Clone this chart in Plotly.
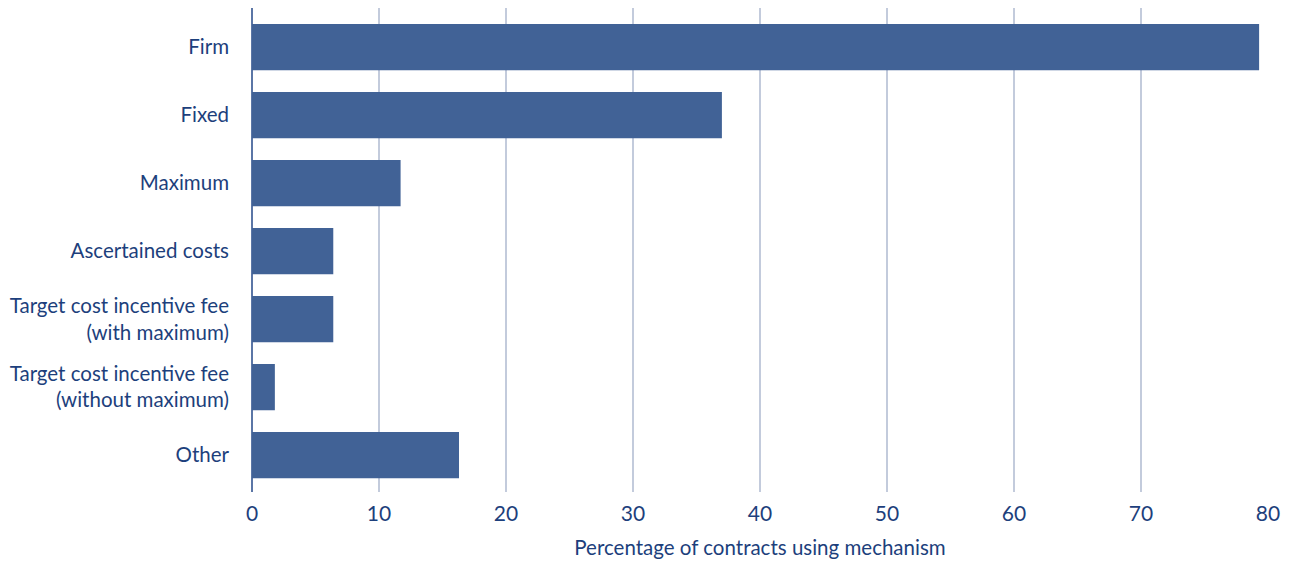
import plotly.graph_objects as go

categories = ["Firm", "Fixed", "Maximum", "Ascertained costs",
              "Target cost incentive fee<br>(with maximum)",
              "Target cost incentive fee<br>(without maximum)", "Other"]
values = [79.3, 37.0, 11.7, 6.4, 6.4, 1.8, 16.3]
x_ticks = [0, 10, 20, 30, 40, 50, 60, 70, 80]
x_title = "Percentage of contracts using mechanism"

TEXT = "#1d3f7c"
BAR = "#416296"
GRID = "#c3cbdc"
FONT = "Lato"

fig = go.Figure(go.Bar(
    x=values, y=categories, orientation="h",
    marker=dict(color=BAR, line=dict(width=0)),
    width=0.68, hoverinfo="x+y",
))

# page body has an 8px default margin, so offsets are compensated here
fig.update_layout(
    width=1289, height=562,
    margin=dict(l=244, r=29, t=0, b=78, autoexpand=False),
    paper_bgcolor="white", plot_bgcolor="white",
    font=dict(family=FONT, size=20.5, color=TEXT),
    showlegend=False,
    bargap=0.32,
)
fig.update_xaxes(
    range=[0, 80], tickvals=x_ticks, ticktext=[str(v) for v in x_ticks],
    showgrid=True, gridcolor=GRID, gridwidth=1.5,
    zeroline=True, zerolinecolor="#5b76a6", zerolinewidth=1.5,
    showline=False, ticks="", ticklabelstandoff=7,
    tickfont=dict(size=21, color=TEXT),
    title=dict(text=x_title, font=dict(size=20.5, color=TEXT), standoff=16),
)
fig.update_yaxes(
    categoryorder="array", categoryarray=categories,
    range=[6.544, -0.574],
    showgrid=False, zeroline=False, showline=False, ticks="",
    ticklabelstandoff=22,
    tickfont=dict(size=20.5, color=TEXT),
)

fig.write_html("out.html")
